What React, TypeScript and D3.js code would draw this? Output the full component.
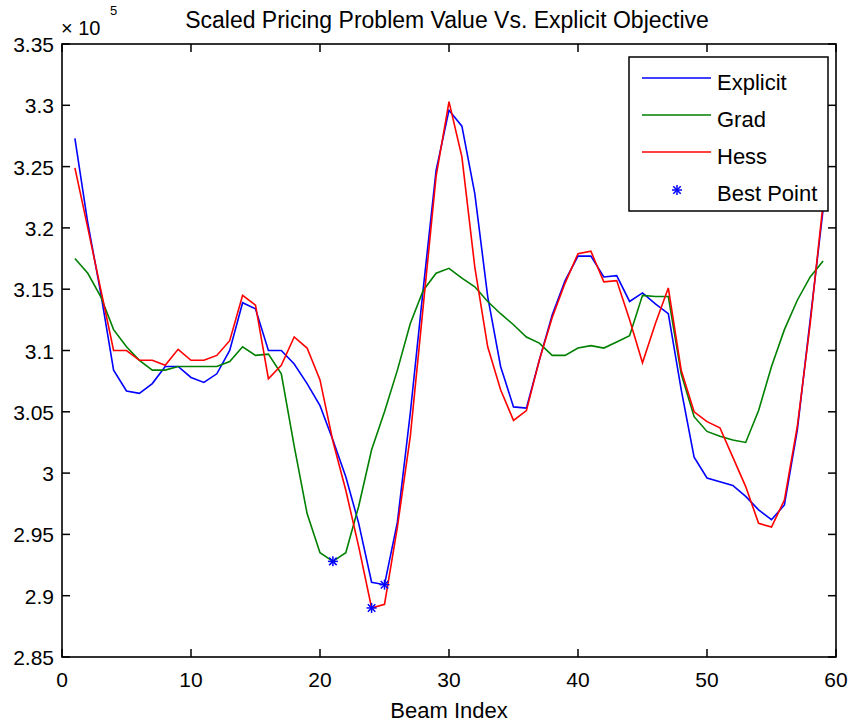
import React from "react";
import * as d3 from "d3";

const beamIndex: number[] = d3.range(1, 60);

const explicitVals: number[] = [
  3.273, 3.204, 3.147, 3.084, 3.067, 3.065, 3.073, 3.087, 3.087, 3.078,
  3.074, 3.081, 3.100, 3.139, 3.134, 3.100, 3.100, 3.089, 3.073, 3.055,
  3.027, 2.997, 2.959, 2.911, 2.909, 2.960, 3.049, 3.150, 3.247, 3.296,
  3.283, 3.228, 3.144, 3.087, 3.054, 3.053, 3.092, 3.129, 3.157, 3.177,
  3.177, 3.160, 3.161, 3.140, 3.147, 3.138, 3.130, 3.068, 3.013, 2.996,
  2.993, 2.990, 2.981, 2.970, 2.962, 2.974, 3.035, 3.125, 3.215,
];

const gradVals: number[] = [
  3.175, 3.163, 3.144, 3.117, 3.103, 3.092, 3.084, 3.084, 3.087, 3.087,
  3.087, 3.087, 3.091, 3.103, 3.096, 3.097, 3.081, 3.022, 2.967, 2.935,
  2.928, 2.935, 2.973, 3.019, 3.050, 3.084, 3.122, 3.149, 3.163, 3.167,
  3.159, 3.152, 3.140, 3.130, 3.121, 3.111, 3.106, 3.096, 3.096, 3.102,
  3.104, 3.102, 3.107, 3.112, 3.145, 3.144, 3.144, 3.081, 3.046, 3.034,
  3.030, 3.027, 3.025, 3.051, 3.087, 3.117, 3.141, 3.160, 3.173,
];

const hessVals: number[] = [
  3.249, 3.200, 3.150, 3.100, 3.100, 3.092, 3.092, 3.088, 3.101, 3.092,
  3.092, 3.096, 3.108, 3.145, 3.137, 3.077, 3.088, 3.111, 3.102, 3.076,
  3.026, 2.986, 2.940, 2.890, 2.893, 2.956, 3.030, 3.136, 3.242, 3.303,
  3.258, 3.168, 3.103, 3.068, 3.043, 3.051, 3.092, 3.127, 3.155, 3.179,
  3.181, 3.156, 3.157, 3.125, 3.090, 3.122, 3.151, 3.084, 3.050, 3.042,
  3.037, 3.013, 2.989, 2.959, 2.956, 2.978, 3.038, 3.122, 3.220,
];

const seriesNames: string[] = ["Explicit", "Grad", "Hess"];
const seriesColors: string[] = ["#0000ff", "#008000", "#ff0000"];
const bestLabel = "Best Point";

const xTicks: number[] = [0, 10, 20, 30, 40, 50, 60];
const yTicks: number[] = [2.85, 2.9, 2.95, 3.0, 3.05, 3.1, 3.15, 3.2, 3.25, 3.3, 3.35];
const yTickLabels: string[] = ["2.85", "2.9", "2.95", "3", "3.05", "3.1", "3.15", "3.2", "3.25", "3.3", "3.35"];

const titleText = "Scaled Pricing Problem Value Vs. Explicit Objective";
const xLabelText = "Beam Index";

const W = 851;
const H = 726;
const left = 62;
const right = 836;
const top = 44;
const bottom = 657;
const FONT = "'Liberation Sans', Arial, Helvetica, sans-serif";
const FS_TITLE = 23;
const FS_LABEL = 22;
const FS_TICK = 21;
const TICK = 8;

function Star({ cx, cy, color }: { cx: number; cy: number; color: string }) {
  const r = 5;
  const d = r * 0.75;
  return (
    <g stroke={color} strokeWidth={1.5}>
      <line x1={cx - r} y1={cy} x2={cx + r} y2={cy} />
      <line x1={cx} y1={cy - r} x2={cx} y2={cy + r} />
      <line x1={cx - d} y1={cy - d} x2={cx + d} y2={cy + d} />
      <line x1={cx - d} y1={cy + d} x2={cx + d} y2={cy - d} />
    </g>
  );
}

export default function App() {
  const x = d3.scaleLinear().domain([0, 60]).range([left, right]);
  const y = d3.scaleLinear().domain([2.85, 3.35]).range([bottom, top]);
  const allSeries = [explicitVals, gradVals, hessVals];
  const line = d3
    .line<number>()
    .x((_, i) => x(beamIndex[i]))
    .y((v) => y(v));

  const bests = allSeries.map((s) => {
    const i = d3.minIndex(s);
    return { bx: beamIndex[i], by: s[i] };
  });

  const legX = 629;
  const legY = 57;
  const legW = 199;
  const legH = 154;
  const rowY = [78, 115, 152, 190];

  return (
    <svg width={W} height={H} style={{ position: "absolute", left: 0, top: 0, background: "#fff" }} fontFamily={FONT}>
      <rect x={0} y={0} width={W} height={H} fill="#fff" />
      {/* title */}
      <text x={447} y={28} fontSize={FS_TITLE} textAnchor="middle" fill="#000">
        {titleText}
      </text>
      {/* exponent */}
      <text x={61} y={35} fontSize={20} fill="#000">× 10</text>
      <text x={110} y={15} fontSize={13} fill="#000">5</text>

      {/* series */}
      <g clipPath="url(#clip)">
        {allSeries.map((s, k) => (
          <path key={k} d={line(s) || ""} fill="none" stroke={seriesColors[k]} strokeWidth={1.6} />
        ))}
      </g>
      {bests.map((b, k) => (
        <Star key={k} cx={x(b.bx)} cy={y(b.by)} color="#0000ff" />
      ))}

      {/* axes box */}
      <rect x={left} y={top} width={right - left} height={bottom - top} fill="none" stroke="#000" strokeWidth={1.6} />
      {xTicks.map((t) => (
        <g key={"x" + t}>
          <line x1={x(t)} x2={x(t)} y1={bottom} y2={bottom - TICK} stroke="#000" strokeWidth={1.5} />
          <line x1={x(t)} x2={x(t)} y1={top} y2={top + TICK} stroke="#000" strokeWidth={1.5} />
          <text x={x(t)} y={687} fontSize={FS_TICK} textAnchor="middle" fill="#000">{t}</text>
        </g>
      ))}
      {yTicks.map((t, i) => (
        <g key={"y" + i}>
          <line x1={left} x2={left + TICK} y1={y(t)} y2={y(t)} stroke="#000" strokeWidth={1.5} />
          <line x1={right} x2={right - TICK} y1={y(t)} y2={y(t)} stroke="#000" strokeWidth={1.5} />
          <text x={54} y={y(t) + 8} fontSize={FS_TICK} textAnchor="end" fill="#000">{yTickLabels[i]}</text>
        </g>
      ))}
      <text x={449} y={718} fontSize={FS_LABEL} textAnchor="middle" fill="#000">{xLabelText}</text>

      {/* legend */}
      <rect x={legX} y={legY} width={legW} height={legH} fill="#fff" stroke="#000" strokeWidth={1.5} />
      {seriesNames.map((n, k) => (
        <g key={n}>
          <line x1={642} x2={711} y1={rowY[k]} y2={rowY[k]} stroke={seriesColors[k]} strokeWidth={1.6} />
          <text x={717} y={rowY[k] + 11.5} fontSize={FS_LABEL} fill="#000">{n}</text>
        </g>
      ))}
      <Star cx={677} cy={rowY[3]} color="#0000ff" />
      <text x={717} y={rowY[3] + 10.5} fontSize={FS_LABEL} fill="#000">{bestLabel}</text>

      <defs>
        <clipPath id="clip">
          <rect x={left} y={top} width={right - left} height={bottom - top} />
        </clipPath>
      </defs>
    </svg>
  );
}
